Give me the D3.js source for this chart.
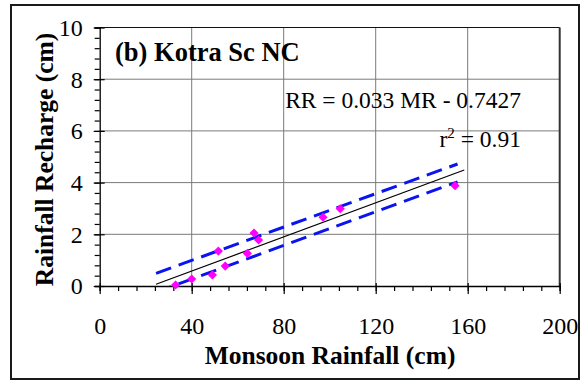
<!DOCTYPE html>
<html><head><meta charset="utf-8">
<script src="https://d3js.org/d3.v7.min.js"></script>
<style>body{margin:0;background:#fff}svg{display:block}text{font-family:"Liberation Serif","Times New Roman",serif}</style>
</head><body>
<script>
// ---- data ----
const monsoonRainfall = [33.0, 40.0, 49.0, 51.6, 54.6, 64.2, 67.1, 69.1, 97.1, 104.6, 154.5];
const rainfallRecharge = [0.04, 0.27, 0.43, 1.35, 0.77, 1.26, 2.05, 1.78, 2.66, 2.99, 3.88];
const slope = 0.033, intercept = -0.7427;
const fitX = [24.5, 158.5];
const bandX = [24.5, 155.6];
const upperBand = [0.49, 4.72];
const lowerBand = [-0.24, 4.03];
const xTicks = [0, 40, 80, 120, 160, 200];
const yTicks = [0, 2, 4, 6, 8, 10];
const titleText = "(b) Kotra Sc NC";
const eqText = "RR = 0.033 MR - 0.7427";
const r2Text = "0.91";
const xTitle = "Monsoon Rainfall (cm)";
const yTitle = "Rainfall Recharge (cm)";

const W = 585, H = 383;
const L = 99.7, R = 559.7, T = 27.5, B = 286;
const svg = d3.select("body").append("svg").attr("width", W).attr("height", H)
  .attr("font-family", "Liberation Serif");

// outer frame
svg.append("rect").attr("x", 11).attr("y", 5).attr("width", 568).attr("height", 374)
  .attr("fill", "none").attr("stroke", "#1a1a1a").attr("stroke-width", 2);

const x = d3.scaleLinear().domain([0, 200]).range([L, R]);
const y = d3.scaleLinear().domain([0, 10]).range([B, T]);

// grid
svg.append("g").selectAll("line").data(xTicks.slice(1, -1)).join("line")
  .attr("x1", d => x(d)).attr("x2", d => x(d)).attr("y1", T).attr("y2", B)
  .attr("stroke", "#7a7a7a").attr("stroke-width", 1);
svg.append("g").selectAll("line").data(yTicks.slice(1, -1)).join("line")
  .attr("x1", L).attr("x2", R).attr("y1", d => y(d)).attr("y2", d => y(d))
  .attr("stroke", "#7a7a7a").attr("stroke-width", 1);

// plot frame top/right
svg.append("line").attr("x1", L).attr("x2", R).attr("y1", T).attr("y2", T).attr("stroke", "#111").attr("stroke-width", 1.2);
svg.append("line").attr("x1", R).attr("x2", R).attr("y1", T).attr("y2", B).attr("stroke", "#333").attr("stroke-width", 2);

// axes
const xMinor = d3.range(0, 201, 8);
const yMinor = d3.range(0, 10.01, 0.4);
const gx = svg.append("g").attr("transform", `translate(0,${B})`)
  .call(d3.axisBottom(x).tickValues(xMinor).tickSize(5).tickFormat(""));
gx.select(".domain").attr("stroke", "#000").attr("stroke-width", 1.3);
gx.selectAll(".tick line").attr("stroke", "#000").attr("stroke-width", 1.2);
const gxM = svg.append("g").attr("transform", `translate(0,${B})`)
  .call(d3.axisBottom(x).tickValues(xTicks).tickSize(8).tickPadding(25).tickFormat(d3.format("d")));
gxM.attr("font-family", "Liberation Serif");
gxM.select(".domain").remove();
gxM.selectAll(".tick line").attr("stroke", "#000").attr("stroke-width", 1.2).attr("y1", -3);
gxM.selectAll(".tick text").attr("font-size", 24).attr("fill", "#000").attr("font-family", "Liberation Serif").attr("dy", 0).attr("y", 48);

const gy = svg.append("g").attr("transform", `translate(${L},0)`)
  .call(d3.axisLeft(y).tickValues(yMinor).tickSize(5).tickFormat(""));
gy.select(".domain").attr("stroke", "#000").attr("stroke-width", 1.3);
gy.selectAll(".tick line").attr("stroke", "#000").attr("stroke-width", 1.2);
const gyM = svg.append("g").attr("transform", `translate(${L},0)`)
  .call(d3.axisLeft(y).tickValues(yTicks).tickSize(6).tickPadding(12).tickFormat(d3.format("d")));
gyM.attr("font-family", "Liberation Serif");
gyM.select(".domain").remove();
gyM.selectAll(".tick line").attr("stroke", "#000").attr("stroke-width", 1.2).attr("x2", 5).attr("x1", -6);
gyM.selectAll(".tick text").attr("font-size", 24).attr("fill", "#000").attr("font-family", "Liberation Serif").attr("x", -17).attr("dy", "0.33em");

// clip
svg.append("clipPath").attr("id", "clip").append("rect").attr("x", L).attr("y", T).attr("width", R - L).attr("height", B - T);
const plot = svg.append("g").attr("clip-path", "url(#clip)");
const line = d3.line().x(d => x(d[0])).y(d => y(d[1]));

// regression line
plot.append("path").datum(fitX.map(v => [v, slope * v + intercept]))
  .attr("d", line).attr("fill", "none").attr("stroke", "#000").attr("stroke-width", 1.2);
// bands
[upperBand, lowerBand].forEach(b => {
  plot.append("path").datum(bandX.map((v, i) => [v, b[i]]))
    .attr("d", line).attr("fill", "none").attr("stroke", "#0a14f0").attr("stroke-width", 3)
    .attr("stroke-dasharray", "16,8");
});

// points
const sym = d3.symbol().type(d3.symbolSquare).size(42);
svg.append("g").selectAll("path").data(monsoonRainfall.map((v, i) => [v, rainfallRecharge[i]])).join("path")
  .attr("d", sym).attr("fill", "#ff00ff")
  .attr("transform", d => `translate(${x(d[0])},${y(d[1])}) rotate(45)`);

// texts
svg.append("text").attr("x", 115).attr("y", 61).attr("font-size", 26.5).attr("font-weight", "bold").text(titleText);
svg.append("text").attr("x", 521).attr("y", 108).attr("text-anchor", "end").attr("font-size", 23.5).text(eqText);
const r2 = svg.append("text").attr("x", 521).attr("y", 147).attr("text-anchor", "end").attr("font-size", 23.5);
r2.append("tspan").text("r");
r2.append("tspan").attr("font-size", 15).attr("dy", -9).text("2");
r2.append("tspan").attr("dy", 9).text(" = " + r2Text);

svg.append("text").attr("x", 330).attr("y", 364).attr("text-anchor", "middle").attr("font-size", 25.5).attr("font-weight", "bold").text(xTitle);
svg.append("text").attr("transform", "translate(53,159.5) rotate(-90)").attr("text-anchor", "middle").attr("font-size", 25.5).attr("font-weight", "bold").text(yTitle);
</script>
</body></html>
